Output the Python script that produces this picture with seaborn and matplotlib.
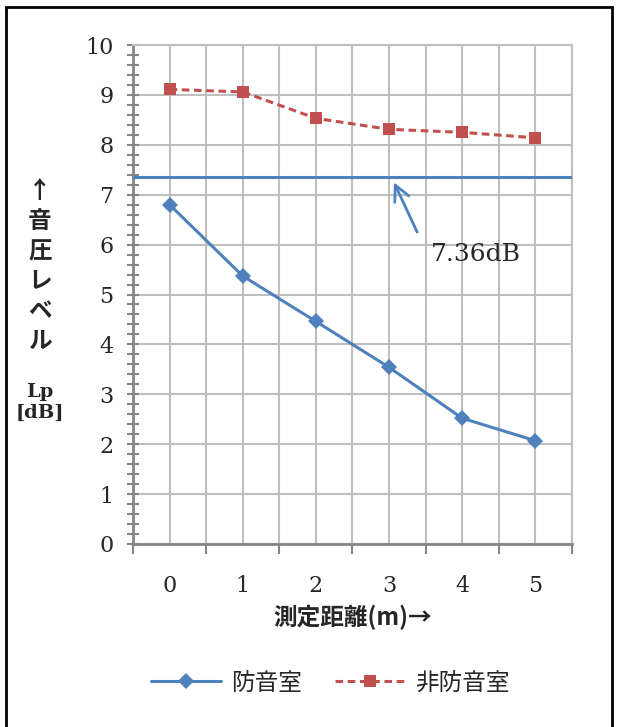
import matplotlib
matplotlib.use("Agg")
import matplotlib.pyplot as plt
import matplotlib.patches as mpatches
from matplotlib.ticker import MultipleLocator
import pandas as pd
import seaborn as sns

distance = [0, 1, 2, 3, 4, 5]
soundproof = [6.80, 5.37, 4.46, 3.54, 2.52, 2.07]
non_soundproof = [9.11, 9.06, 8.53, 8.31, 8.25, 8.14]
reference_level = 7.36
series_names = ["防音室", "非防音室"]

BLUE = "#4F81BD"
RED = "#C0504D"
SERIF = ["DejaVu Serif"]
CJK = ["Noto Sans CJK JP", "DejaVu Sans"]

sns.set_style("white")
plt.rcParams["font.family"] = SERIF

df = pd.DataFrame({
    "distance": distance * 2,
    "level": soundproof + non_soundproof,
    "room": [series_names[0]] * 6 + [series_names[1]] * 6,
})

fig = plt.figure(figsize=(6.17, 7.27), dpi=100)
ax = fig.add_axes([133 / 617, 1 - 544 / 727, (572 - 133) / 617, (544 - 45) / 727])

sns.lineplot(
    data=df[df.room == series_names[0]], x="distance", y="level", ax=ax,
    color=BLUE, lw=2.2, marker="D", markersize=8, markeredgewidth=0,
    label=series_names[0],
)
sns.lineplot(
    data=df[df.room == series_names[1]], x="distance", y="level", ax=ax,
    color=RED, lw=2.2, marker="s", markersize=8, markeredgewidth=0,
    linestyle=(0, (2.5, 1.5)), label=series_names[1],
)
ax.axhline(reference_level, color=BLUE, lw=2.2, zorder=3)

ax.set_xlim(-0.5, 5.5)
ax.set_ylim(0, 10)
ax.xaxis.set_major_locator(MultipleLocator(1))
ax.xaxis.set_minor_locator(MultipleLocator(0.5, offset=0.5))
ax.yaxis.set_major_locator(MultipleLocator(1))
ax.yaxis.set_minor_locator(MultipleLocator(0.2))
ax.grid(True, which="major", axis="both", color="#BFBFBF", lw=1.5)
ax.grid(True, which="minor", axis="x", color="#BFBFBF", lw=1.5)
ax.set_axisbelow(True)

for side in ["left", "bottom"]:
    ax.spines[side].set_color("#868686")
    ax.spines[side].set_linewidth(2)
for side in ["top", "right"]:
    ax.spines[side].set_color("#BFBFBF")
    ax.spines[side].set_linewidth(1.5)

ax.tick_params(axis="y", which="both", direction="inout", length=8,
               width=1.5, color="#868686", left=True, labelsize=16, pad=10)
ax.tick_params(axis="x", which="major", length=0, labelsize=16, pad=22)
ax.tick_params(axis="x", which="minor", direction="out", length=7,
               width=1.5, color="#868686", bottom=True)

ax.set_xlabel("測定距離(m)→", fontfamily=CJK, fontweight="bold",
              fontsize=17, labelpad=6)
ax.set_ylabel("")

ax.annotate("", xy=(3.05, 7.30), xytext=(3.40, 6.20),
            arrowprops=dict(arrowstyle="->", color=BLUE, lw=2,
                            mutation_scale=28))
ax.text(4.19, 5.80, "7.36dB", ha="center", va="center", fontsize=18)

fig.text(40 / 617, 1 - 266 / 727, "↑\n音\n圧\nレ\nベ\nル", ha="center",
         va="center", fontfamily=CJK, fontweight="bold", fontsize=17,
         linespacing=1.32)
fig.text(40 / 617, 1 - 402 / 727, "Lp\n[dB]", ha="center", va="center",
         fontweight="bold", fontsize=14, linespacing=1.2)

ax.get_legend().remove()
handles, labels = ax.get_legend_handles_labels()
fig.legend(handles, labels, loc="center", bbox_to_anchor=(330 / 617, 1 - 683 / 727),
           ncol=2, frameon=False, handlelength=3.0, columnspacing=1.4,
           handletextpad=0.4, prop={"family": CJK, "size": 17})

fig.patches.append(mpatches.Rectangle(
    (6 / 617, -0.01), (612 - 6) / 617, 1 - 7 / 727 + 0.01,
    transform=fig.transFigure, fill=False, edgecolor="black", lw=2))

fig.savefig("out.png", dpi=100)
